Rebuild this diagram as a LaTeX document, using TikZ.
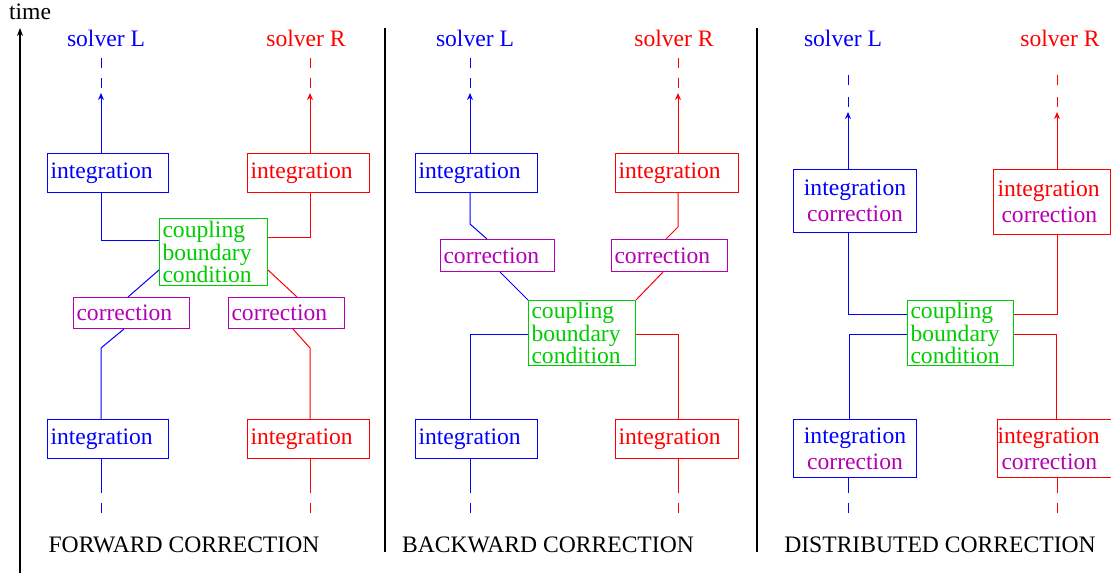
\documentclass[tikz,border=0pt]{standalone}
\usepackage{fontspec}
\setmainfont{LiberationSerif}[Extension=.ttf, UprightFont=*-Regular, BoldFont=*-Bold]
\usetikzlibrary{arrows.meta}
\definecolor{cgreen}{RGB}{0,205,0}
\definecolor{cpurple}{RGB}{180,0,180}
\newcommand{\bodyfont}{\rmfamily\fontsize{23.6}{28}\selectfont}
\newcommand{\tightfont}{\rmfamily\fontsize{23.6}{19.5}\selectfont}
\newcommand{\pairfont}{\rmfamily\fontsize{23.6}{26}\selectfont}

\begin{document}
\begin{tikzpicture}[x=1pt,y=-1pt,
  box/.style={draw=#1, text=#1, line width=1pt, inner xsep=3pt, inner ysep=0pt,
              anchor=north west, align=left, font=\bodyfont},
  pairbox/.style={draw=#1, line width=1pt, inner xsep=3pt, inner ysep=0pt,
              anchor=north west, align=center, font=\pairfont},
  wire/.style={draw=#1, line width=1pt},
  dashwire/.style={draw=#1, line width=1pt, dash pattern=on 10pt off 10pt},
  tip/.style={draw=#1, line width=1pt, -{Stealth[length=7pt,width=6pt]}},
  lbl/.style={text=#1, font=\bodyfont, inner sep=0pt},
]
\useasboundingbox (0,0) rectangle (1111,573);

% time axis and panel separators
\node[lbl=black] (time) at (30,12) {time};
\coordinate (t0) at (20,573);
\coordinate (t1) at (20,28);
\draw[line width=1.2pt, -{Stealth[length=8pt,width=6pt]}] (t0) -- (t1);
\coordinate (s1a) at (385,28);
\coordinate (s1b) at (385,552);
\coordinate (s2a) at (757,28);
\coordinate (s2b) at (757,552);
\draw[line width=2pt] (s1a) -- (s1b);
\draw[line width=2pt] (s2a) -- (s2b);

% ================= forward correction =================
\coordinate (p1L) at (101,0);
\coordinate (p1R) at (310,0);
\node[lbl=blue] (p1sL) at (106,38) {solver L};
\node[lbl=red] (p1sR) at (306,38) {solver R};
\node[box=blue, minimum width=121pt, minimum height=39pt, text width=115pt] (p1iL2) at (47,153) {integration};
\node[box=red, minimum width=122pt, minimum height=39pt, text width=116pt] (p1iR2) at (247,153) {integration};
\node[box=cgreen, font=\tightfont, minimum width=108pt, minimum height=67pt, text width=102pt] (p1cp) at (159,218) {coupling\\boundary\\condition};
\node[box=cpurple, minimum width=116pt, minimum height=31pt, text width=110pt] (p1cL) at (73,297) {correction};
\node[box=cpurple, minimum width=116pt, minimum height=31pt, text width=110pt] (p1cR) at (228,297) {correction};
\node[box=blue, minimum width=121pt, minimum height=39pt, text width=115pt] (p1iL1) at (47,419) {\raisebox{2pt}{integration}};
\node[box=red, minimum width=122pt, minimum height=39pt, text width=116pt] (p1iR1) at (247,419) {\raisebox{-2pt}{integration}};

% future (top) ends
\coordinate (p1dL0) at (101,58);  \coordinate (p1dL1) at (101,90);  \coordinate (p1aL) at (101,93);
\coordinate (p1dR0) at (310,58);  \coordinate (p1dR1) at (310,90);  \coordinate (p1aR) at (310,93);
\draw[dashwire=blue] (p1dL0) -- (p1dL1);
\draw[dashwire=red] (p1dR0) -- (p1dR1);
\draw[tip=blue] (p1iL2.north -| p1L) -- (p1aL);
\draw[tip=red] (p1iR2.north -| p1R) -- (p1aR);
% integration to coupling
\coordinate (p1bL) at (101,240);
\coordinate (p1bR) at (310,237);
\draw[wire=blue] (p1iL2.south -| p1L) -- (p1bL) -- (p1bL -| p1cp.west);
\draw[wire=red] (p1iR2.south -| p1R) -- (p1bR) -- (p1bR -| p1cp.east);
% coupling to corrections
\coordinate (p1e) at (0,270);
\coordinate (p1fL) at (128,0);
\coordinate (p1fR) at (297,0);
\draw[wire=blue] (p1e -| p1cp.west) -- (p1fL |- p1cL.north);
\draw[wire=red] (p1e -| p1cp.east) -- (p1fR |- p1cR.north);
% corrections to earlier integration
\coordinate (p1gL) at (124,0);
\coordinate (p1gR) at (293,0);
\coordinate (p1hL) at (101,348);
\coordinate (p1hR) at (310,348);
\draw[wire=blue] (p1gL |- p1cL.south) -- (p1hL) -- (p1iL1.north -| p1L);
\draw[wire=red] (p1gR |- p1cR.south) -- (p1hR) -- (p1iR1.north -| p1R);
% past (bottom) ends
\coordinate (p1kL) at (101,493); \coordinate (p1mL0) at (101,503); \coordinate (p1mL1) at (101,513);
\coordinate (p1kR) at (310,493); \coordinate (p1mR0) at (310,503); \coordinate (p1mR1) at (310,513);
\draw[wire=blue] (p1iL1.south -| p1L) -- (p1kL);
\draw[wire=red] (p1iR1.south -| p1R) -- (p1kR);
\draw[wire=blue] (p1mL0) -- (p1mL1);
\draw[wire=red] (p1mR0) -- (p1mR1);
\node[lbl=black] (p1t) at (184,545) {FORWARD CORRECTION};

% ================= backward correction =================
\coordinate (p2L) at (470,0);
\coordinate (p2R) at (678,0);
\node[lbl=blue] (p2sL) at (475,38) {solver L};
\node[lbl=red] (p2sR) at (674,38) {solver R};
\node[box=blue, minimum width=122pt, minimum height=39pt, text width=116pt] (p2iL2) at (415,153) {integration};
\node[box=red, minimum width=123pt, minimum height=39pt, text width=117pt] (p2iR2) at (615,153) {integration};
\node[box=cpurple, minimum width=114pt, minimum height=32pt, text width=108pt] (p2cL) at (440,239) {correction};
\node[box=cpurple, minimum width=116pt, minimum height=32pt, text width=110pt] (p2cR) at (611,239) {correction};
\node[box=cgreen, font=\tightfont, minimum width=107pt, minimum height=65pt, text width=101pt] (p2cp) at (528,300) {coupling\\boundary\\condition};
\node[box=blue, minimum width=122pt, minimum height=39pt, text width=116pt] (p2iL1) at (415,419) {\raisebox{2pt}{integration}};
\node[box=red, minimum width=123pt, minimum height=39pt, text width=117pt] (p2iR1) at (615,419) {\raisebox{-2pt}{integration}};

\coordinate (p2dL0) at (470,58);  \coordinate (p2dL1) at (470,90);  \coordinate (p2aL) at (470,93);
\coordinate (p2dR0) at (678,58);  \coordinate (p2dR1) at (678,90);  \coordinate (p2aR) at (678,93);
\draw[dashwire=blue] (p2dL0) -- (p2dL1);
\draw[dashwire=red] (p2dR0) -- (p2dR1);
\draw[tip=blue] (p2iL2.north -| p2L) -- (p2aL);
\draw[tip=red] (p2iR2.north -| p2R) -- (p2aR);
% integration down to corrections
\coordinate (p2bL) at (470,224);
\coordinate (p2bR) at (678,227);
\coordinate (p2fL) at (487,0);
\coordinate (p2fR) at (666,0);
\draw[wire=blue] (p2iL2.south -| p2L) -- (p2bL) -- (p2fL |- p2cL.north);
\draw[wire=red] (p2iR2.south -| p2R) -- (p2bR) -- (p2fR |- p2cR.north);
% corrections down to coupling
\coordinate (p2gL) at (500,0);
\coordinate (p2gR) at (663,0);
\draw[wire=blue] (p2gL |- p2cL.south) -- (p2cp.north west);
\draw[wire=red] (p2gR |- p2cR.south) -- (p2cp.north east);
% coupling down to earlier integration
\coordinate (p2e) at (0,334);
\draw[wire=blue] (p2e -| p2cp.west) -- (p2e -| p2L) -- (p2iL1.north -| p2L);
\draw[wire=red] (p2e -| p2cp.east) -- (p2e -| p2R) -- (p2iR1.north -| p2R);
\coordinate (p2kL) at (470,493); \coordinate (p2mL0) at (470,503); \coordinate (p2mL1) at (470,513);
\coordinate (p2kR) at (678,493); \coordinate (p2mR0) at (678,503); \coordinate (p2mR1) at (678,513);
\draw[wire=blue] (p2iL1.south -| p2L) -- (p2kL);
\draw[wire=red] (p2iR1.south -| p2R) -- (p2kR);
\draw[wire=blue] (p2mL0) -- (p2mL1);
\draw[wire=red] (p2mR0) -- (p2mR1);
\node[lbl=black] (p2t) at (548,545) {BACKWARD CORRECTION};

% ================= distributed correction =================
\coordinate (p3L) at (848,0);
\coordinate (p3R) at (1057,0);
\node[lbl=blue] (p3sL) at (843,38) {solver L};
\node[lbl=red] (p3sR) at (1060,38) {solver R};
\node[pairbox=blue, minimum width=123pt, minimum height=63pt, text width=117pt] (p3iL2) at (793,169)
  {\textcolor{blue}{integration}\\\textcolor{cpurple}{correction}};
\node[pairbox=red, align=left, minimum width=117pt, minimum height=65pt, text width=111pt] (p3iR2) at (993,169)
  {\hspace*{1pt}\textcolor{red}{integration}\\\hspace*{5pt}\textcolor{cpurple}{correction}};
\node[box=cgreen, font=\tightfont, minimum width=106pt, minimum height=65pt, text width=100pt] (p3cp) at (907,300) {coupling\\boundary\\condition};
\node[pairbox=blue, minimum width=123pt, minimum height=58pt, text width=117pt] (p3iL1) at (793,419)
  {\textcolor{blue}{integration}\\\textcolor{cpurple}{correction}};
\node[pairbox=red, align=left, inner xsep=0pt, minimum width=114pt, minimum height=58pt, text width=114pt] (p3iR1) at (997,419)
  {\raisebox{-3pt}{\textcolor{red}{integration}}\\\hspace*{4pt}\raisebox{-3pt}{\textcolor{cpurple}{correction}}};

\coordinate (p3dL0) at (848,75);  \coordinate (p3dL1) at (848,107);  \coordinate (p3aL) at (848,112);
\coordinate (p3dR0) at (1057,75); \coordinate (p3dR1) at (1057,107); \coordinate (p3aR) at (1057,112);
\draw[draw=blue, line width=1pt, dash pattern=on 10pt off 12pt] (p3dL0) -- (p3dL1);
\draw[draw=red, line width=1pt, dash pattern=on 10pt off 12pt] (p3dR0) -- (p3dR1);
\draw[tip=blue] (p3iL2.north -| p3L) -- (p3aL);
\draw[tip=red] (p3iR2.north -| p3R) -- (p3aR);
% later integration/correction down to coupling
\coordinate (p3b) at (0,314);
\draw[wire=blue] (p3iL2.south -| p3L) -- (p3b -| p3L) -- (p3b -| p3cp.west);
\draw[wire=red] (p3iR2.south -| p3R) -- (p3b -| p3R) -- (p3b -| p3cp.east);
% coupling down to earlier integration/correction
\coordinate (p3e) at (0,334);
\coordinate (p3L1) at (849,0);
\coordinate (p3R1) at (1056,0);
\draw[wire=blue] (p3e -| p3cp.west) -- (p3e -| p3L1) -- (p3iL1.north -| p3L1);
\draw[wire=red] (p3e -| p3cp.east) -- (p3e -| p3R1) -- (p3iR1.north -| p3R1);
\coordinate (p3kL) at (848,493); \coordinate (p3mL0) at (848,503); \coordinate (p3mL1) at (848,513);
\coordinate (p3kR) at (1057,493); \coordinate (p3mR0) at (1057,503); \coordinate (p3mR1) at (1057,513);
\draw[wire=blue] (p3iL1.south -| p3L) -- (p3kL);
\draw[wire=red] (p3iR1.south -| p3R) -- (p3kR);
\draw[wire=blue] (p3mL0) -- (p3mL1);
\draw[wire=red] (p3mR0) -- (p3mR1);
\node[lbl=black] (p3t) at (940,545) {DISTRIBUTED CORRECTION};
\end{tikzpicture}
\end{document}
